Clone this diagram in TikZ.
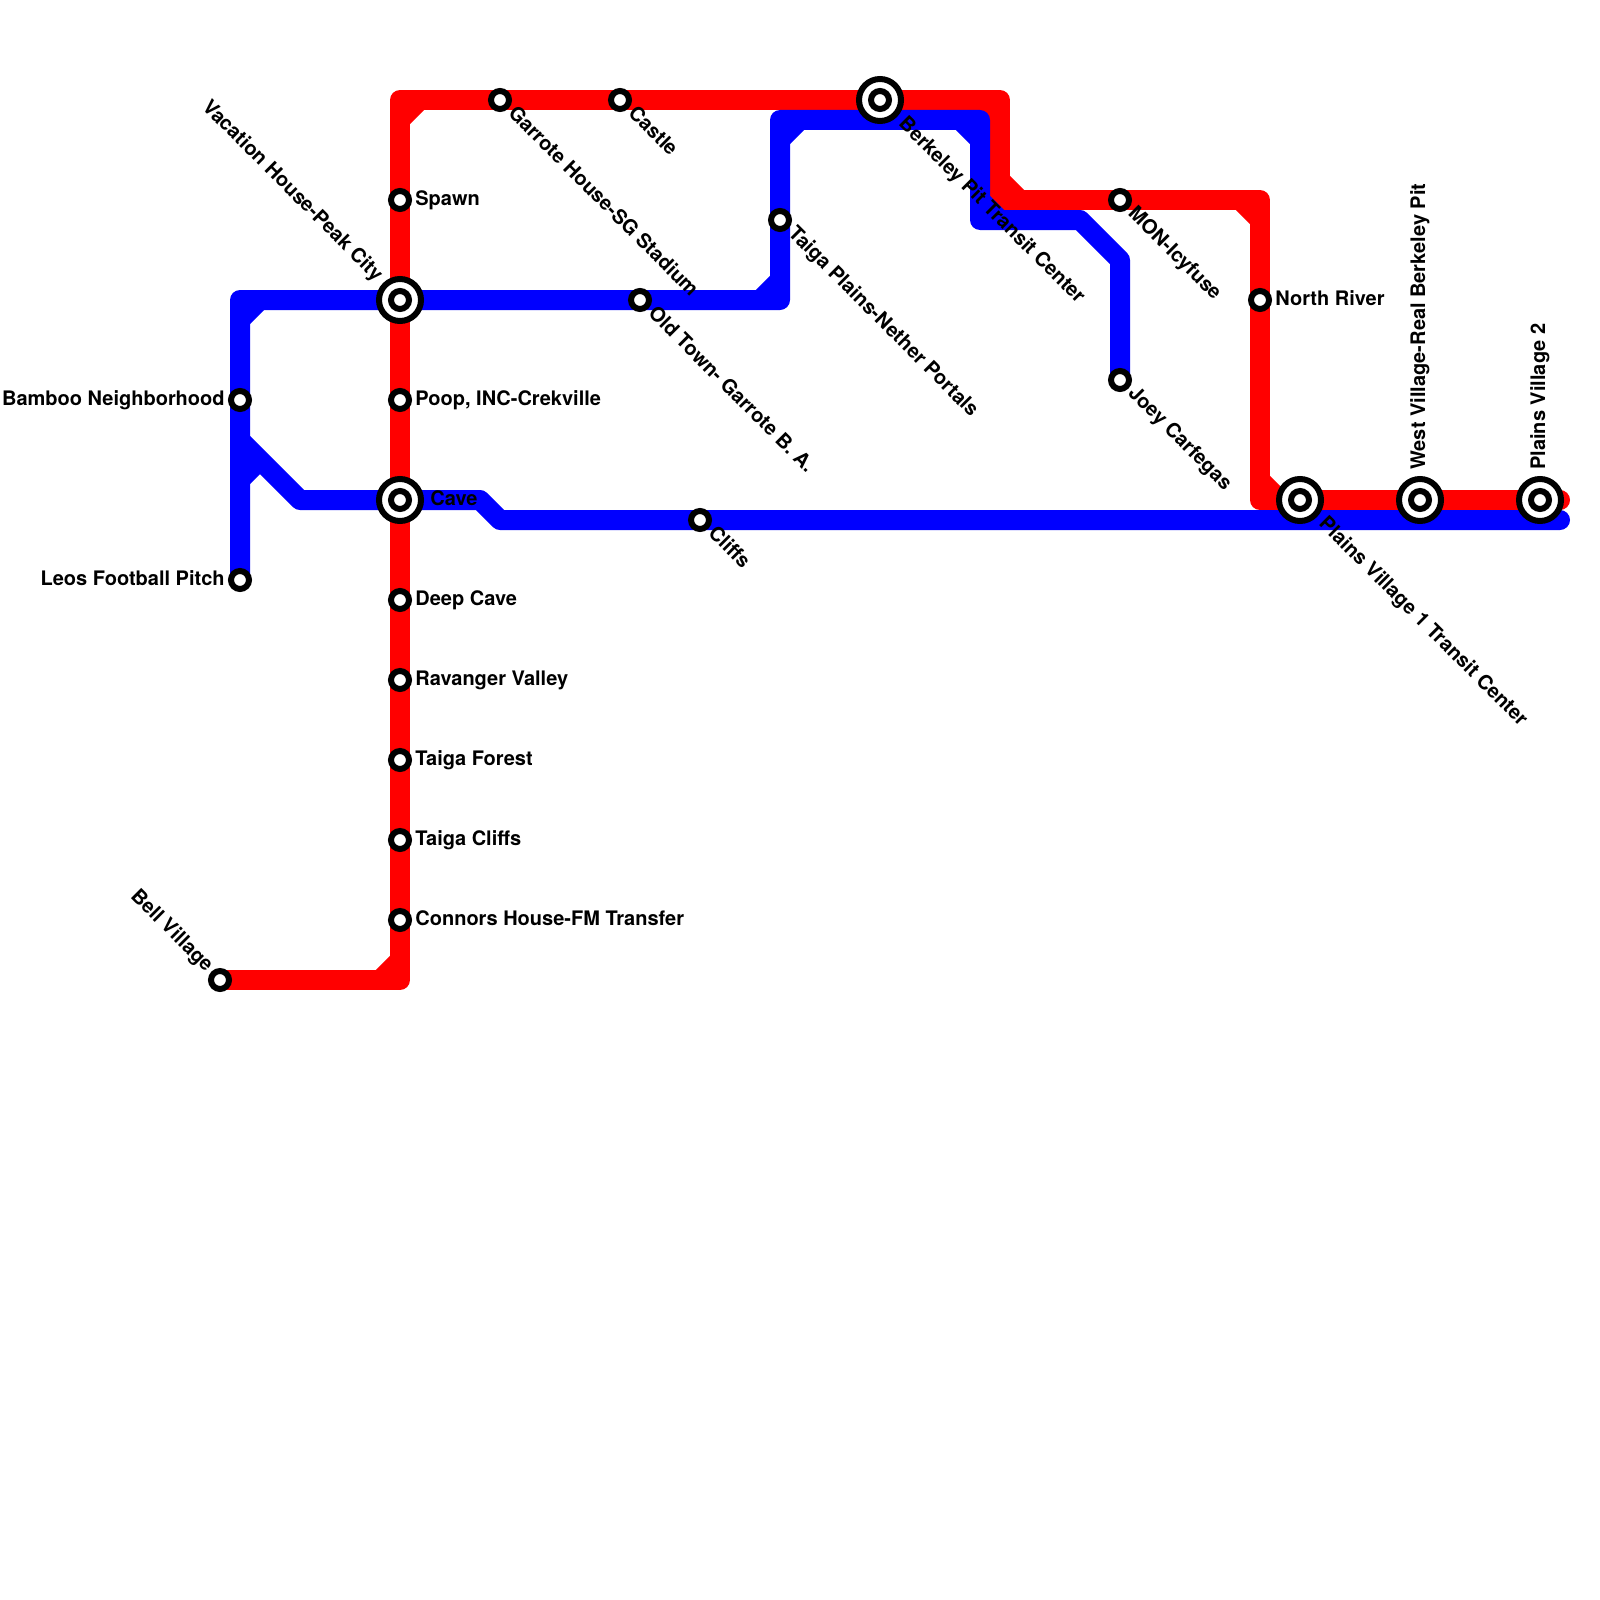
\documentclass[tikz,border=0pt]{standalone}
\usepackage{fontspec}
\setmainfont{TeX Gyre Heros}
\usetikzlibrary{calc}
\definecolor{rline}{RGB}{255,0,0}
\definecolor{bline}{RGB}{0,0,255}
\tikzset{
  route/.style={line width=10pt,line join=round,line cap=round},
  chamfer/.style={line width=10pt,line cap=butt},
  smallst/.style={circle,draw=black,fill=white,line width=3pt,minimum size=9pt,inner sep=0pt,outer sep=0pt},
  bigst/.style={circle,draw=black,fill=white,line width=3pt,minimum size=21pt,inner sep=0pt,outer sep=0pt},
  lab/.style={font=\bfseries\fontsize{10pt}{12pt}\selectfont,inner sep=0pt,text=black},
  labR/.style={lab,anchor=base west},
  labL/.style={lab,anchor=base east},
  labDR/.style={lab,anchor=base west,rotate=-45},
  labUL/.style={lab,anchor=base east,rotate=-45},
  labUp/.style={lab,anchor=base west,rotate=90},
}
\begin{document}
\begin{tikzpicture}[x=0.5pt,y=-0.5pt]
\useasboundingbox (0,0) rectangle (1600,1600);
\fill[white] (0,0) rectangle (1600,1600);
% stations
\coordinate (bell) at (220,980);
\coordinate (spawn) at (400,200);
\coordinate (vac) at (400,300);
\coordinate (poop) at (400,400);
\coordinate (cave) at (400,500);
\coordinate (deep) at (400,600);
\coordinate (rav) at (400,680);
\coordinate (tforest) at (400,760);
\coordinate (tcliffs) at (400,840);
\coordinate (conn) at (400,920);
\coordinate (garr) at (500,100);
\coordinate (castle) at (620,100);
\coordinate (berk) at (880,100);
\coordinate (mon) at (1120,200);
\coordinate (north) at (1260,300);
\coordinate (pv1) at (1300,500);
\coordinate (west) at (1420,500);
\coordinate (pv2) at (1540,500);
\coordinate (bamboo) at (240,400);
\coordinate (leos) at (240,580);
\coordinate (old) at (640,300);
\coordinate (tplains) at (780,220);
\coordinate (joey) at (1120,380);
\coordinate (cliffs) at (700,520);
% bends
\coordinate (r1) at (400,980);
\coordinate (r2) at (400,100);
\coordinate (r3) at (1000,100);
\coordinate (r4) at (1000,200);
\coordinate (r5) at (1260,200);
\coordinate (r6) at (1260,500);
\coordinate (r7) at (1560,500);
\coordinate (b1) at (240,300);
\coordinate (b2) at (780,300);
\coordinate (b3) at (780,120);
\coordinate (b4) at (980,120);
\coordinate (b5) at (980,220);
\coordinate (b6) at (1080,220);
\coordinate (b7) at (1120,260);
\coordinate (c1) at (240,440);
\coordinate (c2) at (300,500);
\coordinate (c3) at (480,500);
\coordinate (c4) at (500,520);
\coordinate (c5) at (1560,520);
% red line
\draw[route,rline] (bell) -- (r1) -- (r2) -- (r3) -- (r4) -- (r5) -- (r6) -- (r7);
\draw[chamfer,rline] (380,980) -- (400,960);
\draw[chamfer,rline] (400,120) -- (420,100);
\draw[chamfer,rline] (980,100) -- (1000,120);
\draw[chamfer,rline] (1000,180) -- (1020,200);
\draw[chamfer,rline] (1240,200) -- (1260,220);
\draw[chamfer,rline] (1260,480) -- (1280,500);
% blue lines
\draw[route,bline] (leos) -- (b1) -- (b2) -- (b3) -- (b4) -- (b5) -- (b6) -- (b7) -- (joey);
\draw[route,bline] (c1) -- (c2) -- (c3) -- (c4) -- (c5);
\draw[chamfer,bline] (240,320) -- (260,300);
\draw[chamfer,bline] (760,300) -- (780,280);
\draw[chamfer,bline] (780,140) -- (800,120);
\draw[chamfer,bline] (960,120) -- (980,140);
\draw[chamfer,bline] (980,200) -- (1000,220);
\draw[chamfer,bline] (240,480) -- (260,460);
% station markers
\foreach \s in {bell,spawn,poop,deep,rav,tforest,tcliffs,conn,garr,castle,mon,north,bamboo,leos,old,tplains,joey,cliffs}
  \node[smallst] (st-\s) at (\s) {};
\foreach \s in {vac,cave,berk,pv1,west,pv2}{
  \node[bigst] (st-\s) at (\s) {};
  \node[smallst] (sti-\s) at (\s) {};
}
% labels
\node[labR] (l-spawn) at ($(spawn)+(15,5)$) {Spawn};
\node[labR] (l-poop) at ($(poop)+(15,5)$) {Poop, INC-Crekville};
\node[labR] (l-cave) at ($(cave)+(30,5)$) {Cave};
\node[labR] (l-deep) at ($(deep)+(15,5)$) {Deep Cave};
\node[labR] (l-rav) at ($(rav)+(15,5)$) {Ravanger Valley};
\node[labR] (l-tforest) at ($(tforest)+(15,5)$) {Taiga Forest};
\node[labR] (l-tcliffs) at ($(tcliffs)+(15,5)$) {Taiga Cliffs};
\node[labR] (l-conn) at ($(conn)+(15,5)$) {Connors House-FM Transfer};
\node[labR] (l-north) at ($(north)+(15,5)$) {North River};
\node[labL] (l-bamboo) at ($(bamboo)+(-15,5)$) {Bamboo Neighborhood};
\node[labL] (l-leos) at ($(leos)+(-15,5)$) {Leos Football Pitch};
\node[labUL] (l-bell) at ($(bell)+(-14.14,-7.07)$) {Bell Village};
\node[labUL] (l-vac) at ($(vac)+(-24.7,-17.7)$) {Vacation House-Peak City};
\node[labDR] (l-garr) at ($(garr)+(7.07,14.14)$) {Garrote House-SG Stadium};
\node[labDR] (l-castle) at ($(castle)+(7.07,14.14)$) {Castle};
\node[labDR] (l-old) at ($(old)+(7.07,14.14)$) {Old Town- Garrote B. A.};
\node[labDR] (l-cliffs) at ($(cliffs)+(7.07,14.14)$) {Cliffs};
\node[labDR] (l-tplains) at ($(tplains)+(7.07,14.14)$) {Taiga Plains-Nether Portals};
\node[labDR] (l-berk) at ($(berk)+(17.7,24.7)$) {Berkeley Pit Transit Center};
\node[labDR] (l-mon) at ($(mon)+(7.07,14.14)$) {MON-Icyfuse};
\node[labDR] (l-joey) at ($(joey)+(7.07,14.14)$) {Joey Carfegas};
\node[labDR] (l-pv1) at ($(pv1)+(17.7,24.7)$) {Plains Village 1 Transit Center};
\node[labUp] (l-west) at ($(west)+(5,-30)$) {West Village-Real Berkeley Pit};
\node[labUp] (l-pv2) at ($(pv2)+(5,-30)$) {Plains Village 2};
\end{tikzpicture}
\end{document}
